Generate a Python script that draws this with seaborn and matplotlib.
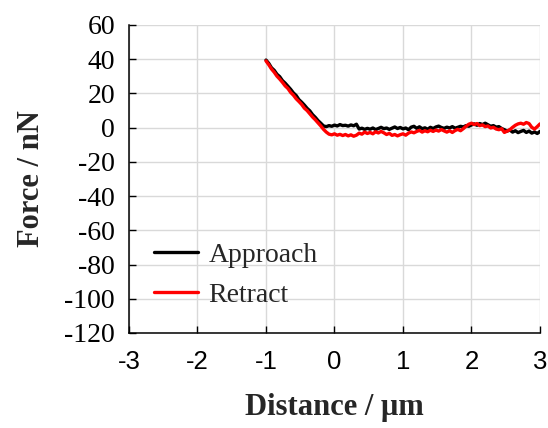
import numpy as np
import pandas as pd
import matplotlib
matplotlib.use("Agg")
import matplotlib.pyplot as plt
from matplotlib.font_manager import FontProperties
import seaborn as sns

distance = [-1.00, -0.96, -0.92, -0.88, -0.84, -0.80, -0.76, -0.72, -0.68, -0.64,
            -0.60, -0.56, -0.52, -0.48, -0.44, -0.40, -0.36, -0.32, -0.28, -0.24,
            -0.20, -0.16, -0.12, -0.08, -0.04, 0.00, 0.04, 0.08, 0.12, 0.16,
            0.20, 0.24, 0.28, 0.32, 0.36, 0.40, 0.44, 0.48, 0.52, 0.56,
            0.60, 0.64, 0.68, 0.72, 0.76, 0.80, 0.84, 0.88, 0.92, 0.96,
            1.00, 1.04, 1.08, 1.12, 1.16, 1.20, 1.24, 1.28, 1.32, 1.36,
            1.40, 1.44, 1.48, 1.52, 1.56, 1.60, 1.64, 1.68, 1.72, 1.76,
            1.80, 1.84, 1.88, 1.92, 1.96, 2.00, 2.04, 2.08, 2.12, 2.16,
            2.20, 2.24, 2.28, 2.32, 2.36, 2.40, 2.44, 2.48, 2.52, 2.56,
            2.60, 2.64, 2.68, 2.72, 2.76, 2.80, 2.84, 2.88, 2.92, 2.96, 3.00]

approach = [39.5, 37.6, 35.0, 33.5, 31.2, 29.8, 27.5, 26.0, 24.2, 22.4,
            20.3, 18.8, 16.4, 14.9, 13.2, 11.3, 9.8, 7.6, 6.0, 4.1,
            2.6, 1.0, 0.6, 1.2, 0.8, 1.5, 1.0, 1.8, 1.2, 1.4,
            0.9, 1.6, 1.1, 2.0, -0.8, -0.3, -1.0, -0.4, -0.9, -0.2,
            -1.1, -0.5, 0.2, -0.6, -0.2, -1.0, -0.3, 0.4, -0.5, 0.1,
            -0.7, -0.2, -1.2, 0.3, 0.8, -0.4, 0.5, -0.6, -0.1, -0.9,
            0.2, -0.5, 0.4, 0.9, 0.1, -0.4, 0.3, -0.2, 0.6, -0.3,
            0.2, 0.8, 0.4, 1.2, 0.8, 1.6, 2.2, 1.4, 2.4, 1.8,
            2.6, 1.7, 0.8, 1.2, 0.3, 0.6, -0.5, -1.2, -2.0, -1.4,
            -2.6, -1.8, -2.9, -2.2, -1.6, -2.8, -2.0, -3.2, -2.5, -3.4, -2.2]

retract = [39.0, 36.8, 34.3, 32.4, 30.1, 28.4, 26.5, 24.4, 22.9, 20.6,
           19.0, 16.9, 15.3, 13.6, 11.4, 10.0, 8.1, 6.2, 4.6, 2.8,
           1.0, -1.0, -2.6, -3.8, -4.2, -3.6, -4.4, -3.9, -4.6, -4.0,
           -4.8, -4.2, -5.0, -4.4, -3.2, -3.8, -2.6, -3.4, -2.8, -3.6,
           -2.4, -3.1, -2.2, -3.0, -4.0, -3.3, -4.5, -4.0, -4.8, -4.1,
           -3.6, -4.4, -3.2, -2.5, -3.0, -2.2, -1.6, -2.6, -1.8, -2.4,
           -1.5, -2.2, -1.4, -2.0, -1.1, -1.9, -2.6, -1.8, -2.8, -1.7,
           -1.0, -1.8, -0.6, 0.8, 2.0, 2.6, 1.8, 2.4, 1.2, 1.6,
           0.6, 1.0, -0.2, 0.2, -0.8, -1.2, -0.6, -2.8, -2.0, -1.2,
           0.2, 1.4, 2.2, 2.6, 2.0, 3.0, 2.4, 0.2, -0.8, 0.6, 2.2]

series_names = ["Approach", "Retract"]
x_ticks = [-3, -2, -1, 0, 1, 2, 3]
y_ticks = [60, 40, 20, 0, -20, -40, -60, -80, -100, -120]

df = pd.DataFrame({
    "Distance": distance * 2,
    "Force": approach + retract,
    "Series": [series_names[0]] * len(distance) + [series_names[1]] * len(distance),
})

sns.set_theme(style="white")
plt.rcParams["font.family"] = ["Liberation Serif", "DejaVu Serif"]
plt.rcParams["axes.unicode_minus"] = False

fig = plt.figure(figsize=(5.48, 4.28), dpi=100)
ax = fig.add_axes([0.2354, 0.222, 0.75, 0.7196])

sns.lineplot(data=df, x="Distance", y="Force", hue="Series",
             palette={"Approach": "black", "Retract": "#ff0000"},
             linewidth=2.4, ax=ax, sort=False, estimator=None)

ax.set_xlim(-3, 3)
ax.set_ylim(-120, 60)
ax.set_xticks(x_ticks)
ax.set_yticks(y_ticks)
ax.grid(True, color="#d9d9d9", linewidth=1.0)
ax.set_axisbelow(True)
for s in ["top", "right"]:
    ax.spines[s].set_visible(False)
for s in ["left", "bottom"]:
    ax.spines[s].set_color("black")
    ax.spines[s].set_linewidth(1.1)
ax.tick_params(axis="both", direction="in", length=5, width=1.0, colors="black",
               left=True, bottom=True)
ax.tick_params(axis="y", pad=10, labelsize=20)
ax.tick_params(axis="x", pad=12, labelsize=18.5)
ax.set_xlabel("Distance / μm", fontsize=22, fontweight="bold", labelpad=14)
ax.set_ylabel("Force / nN", fontsize=22, fontweight="bold", labelpad=13)

leg = ax.legend(loc="upper left", bbox_to_anchor=(0.062, 0.294), frameon=False,
                fontsize=20, handlelength=1.55, handletextpad=0.4, labelspacing=0.53,
                borderaxespad=0, borderpad=0)
for line in leg.get_lines():
    line.set_linewidth(2.4)

fig.canvas.draw()
for lab in ax.get_yticklabels():
    lab.set_fontproperties(FontProperties(family="Liberation Serif", size=20))
for lab in ax.get_xticklabels():
    lab.set_fontproperties(FontProperties(family="Liberation Sans", size=18.5))

fig.savefig("out.png", dpi=100)
